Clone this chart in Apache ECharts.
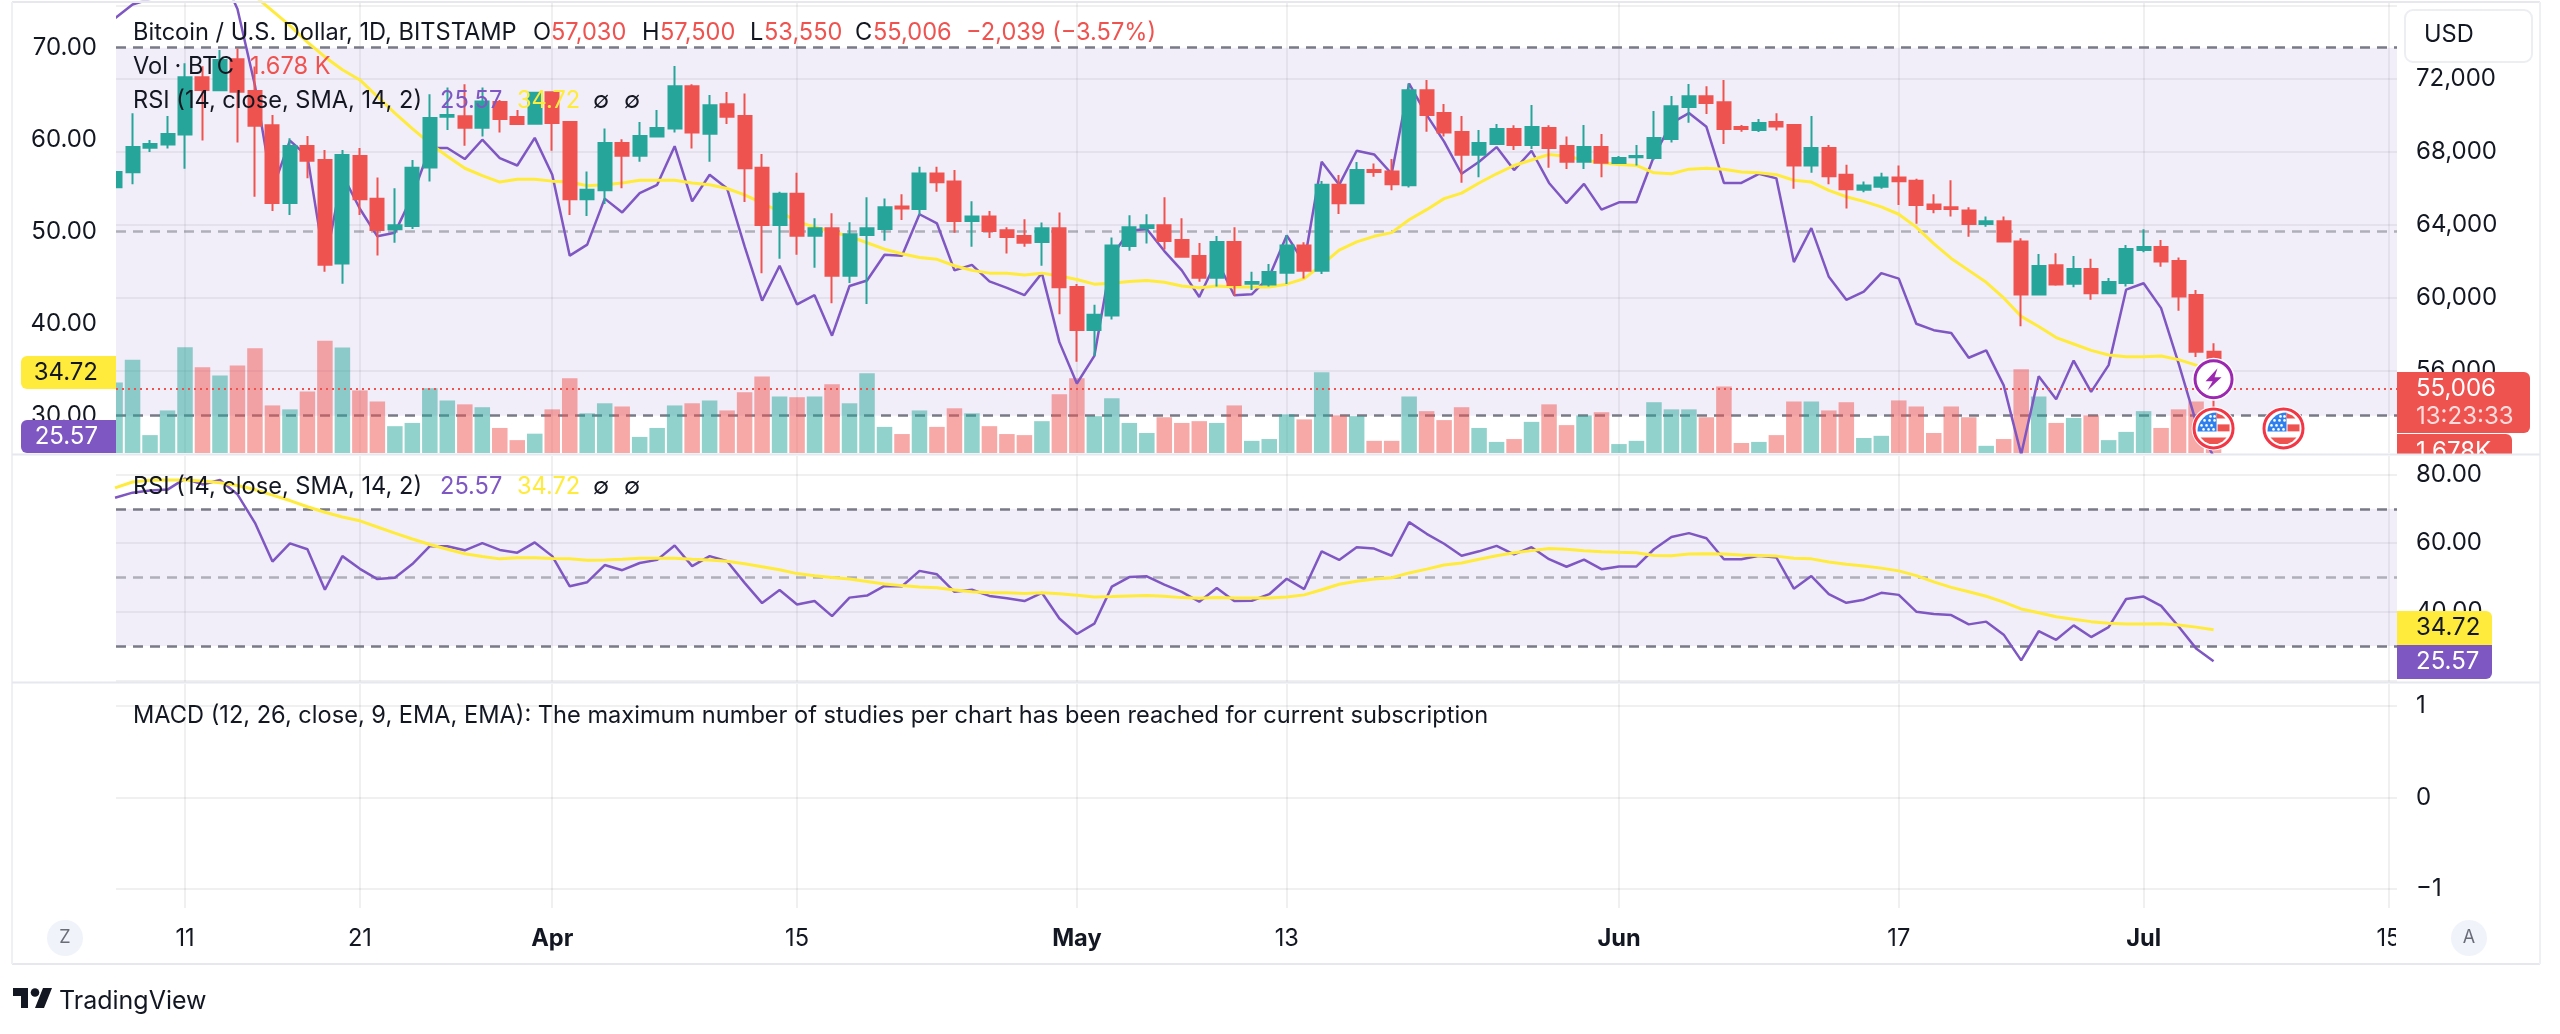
<!DOCTYPE html>
<html>
<head>
<meta charset="utf-8">
<title>BTCUSD</title>
<style>
html,body{margin:0;padding:0;background:#fff;}
#chart{width:2560px;height:1034px;}
</style>
<script src="https://cdn.jsdelivr.net/npm/echarts@6/dist/echarts.min.js"></script>
</head>
<body>
<div id="chart"></div>
<script>
// daily candles, index 0 = 7 Mar
var opens=[66060,66880,68230,68400,68950,72090,71380,73080,71340,69460,
65200,68320,67560,61870,67780,65430,63750,63930,67150,69930,
69950,69330,70740,69920,69550,71270,69640,65400,65890,68490,
67790,68840,69280,71600,69000,70610,69970,67130,63990,65710,
63400,63810,61210,63440,63770,65010,64870,66810,66370,64210,
64460,63700,63390,63060,63810,60590,58230,59030,62840,63830,
63970,63170,62290,61100,63060,60770,60730,61370,62870,61480,
66200,65180,67010,66920,66170,71380,70130,69090,67850,68430,
69260,68380,69310,68320,67460,68270,67390,67700,67670,68710,
70460,71050,70720,69370,69200,69640,69480,67250,68210,66750,
65930,66090,66590,66420,65120,64960,64790,64040,64190,63090,
60170,61780,60770,61580,60240,60810,62620,62780,62010,60150,
57030];
var closes=[66900,68270,68430,68980,72090,71400,73040,71300,69440,65200,
68320,67520,61810,67830,65400,63720,63970,67130,69860,70030,
69330,70760,69800,69530,71250,69590,65400,65930,68490,67790,
68870,69310,71600,69060,70560,69930,67100,63990,65710,63400,
63810,61210,63480,63810,64960,64900,66810,66330,64210,64460,
63660,63330,63020,63810,60570,58230,59070,62870,63860,63970,
63110,62250,61100,63060,60700,60860,61410,62870,61480,66200,
65180,67010,66900,66220,71380,70030,69060,67850,68490,69260,
68380,69370,68210,67460,68270,67410,67670,67780,68760,70500,
71050,70680,69260,69260,69590,69400,67250,68210,66660,65950,
66150,66590,66390,65090,64870,64870,64040,64190,63080,60170,
61740,60720,61580,60240,60860,62670,62780,61980,60060,57030,
55006];
var lows=[65640,66220,68000,68180,67080,68620,71360,68510,65540,64760,
64540,66550,61430,60770,64540,62310,63020,63770,66370,69200,
68340,68840,69060,69530,69550,68070,64540,64480,65140,66000,
67460,68840,69060,68180,67460,69530,65250,61340,62140,62360,
61650,59690,60810,59650,63130,64260,64540,65820,63570,62800,
63280,62420,62800,61760,59090,56490,56800,58810,62580,62970,
62650,62250,60880,60610,60110,60420,60610,60750,61060,61300,
64590,65140,66640,65890,66040,69110,68840,66310,66610,68430,
68100,68160,67130,67060,67060,66610,67390,67250,67560,68510,
69600,70080,68430,69110,69090,69170,65980,66860,66220,64900,
65780,65980,65090,64060,64630,64450,63350,63900,63080,58430,
60170,60660,60570,59890,60240,60610,62490,61700,59290,56750,
53550];
var highs=[68010,70120,68650,69970,72860,72700,73590,73680,72680,70030,
68750,68870,68100,68100,68210,66590,66000,67560,71160,71540,
71710,71540,70850,70300,71300,71300,69700,66920,69290,68690,
69640,70300,72710,71710,71120,71290,71210,67890,65820,66860,
64360,64630,64140,65510,65450,65670,67190,67190,67010,65290,
64760,63860,64300,64120,64680,60750,59620,63310,64520,64580,
65510,64360,63000,63390,63860,61430,61850,63440,63040,66400,
66730,67450,67360,67610,71760,71950,70630,69970,69200,69530,
69460,70570,69460,68840,69480,68980,67780,68380,70240,71070,
71730,71600,71950,69480,69800,70120,69530,69970,68380,67300,
66370,66860,67250,66530,65670,66440,64960,64450,64450,63260,
62400,62440,62290,62140,61080,62890,63750,63170,62200,60420,
57500];
// volume in thousand BTC
var volumes=[19.7,26.1,5.0,11.9,29.6,24.0,21.7,24.5,29.3,13.3,
12.2,17.2,31.4,29.5,17.5,14.4,7.5,8.4,18.1,14.7,
13.6,12.8,7.0,3.6,5.4,12.2,20.9,11.1,13.9,13.0,
4.5,7.0,13.3,13.9,14.7,11.9,17.0,21.4,15.8,15.6,
15.8,19.2,13.9,22.3,7.3,5.3,11.9,7.3,12.5,11.1,
7.5,5.3,5.0,8.9,16.4,20.9,10.3,15.3,8.4,5.6,
10.0,8.4,8.9,8.4,13.3,3.4,3.9,10.8,9.4,22.6,
10.5,10.3,3.4,3.4,15.8,11.7,9.2,12.8,7.0,3.1,
3.9,8.7,13.6,7.8,10.5,11.4,2.5,3.4,14.2,12.2,
12.2,10.0,18.6,2.8,3.1,5.0,14.4,14.4,11.9,14.2,
4.2,4.8,14.7,13.0,5.6,13.0,10.0,2.0,3.9,23.4,
15.8,8.4,9.8,10.5,3.6,5.9,11.7,7.0,12.2,14.4,
1.678];
var rsiValues=[73.2,74.7,75.3,75.6,78.8,77.1,78.4,74.2,65.9,54.6,
59.9,58.2,46.4,56.2,52.5,49.5,49.9,53.9,59.1,59.1,
57.9,60.0,58.0,57.2,60.2,56.2,47.4,48.6,53.6,52.1,
54.2,55.1,59.3,53.3,56.2,54.7,48.4,42.5,46.3,42.1,
43.1,38.7,44.1,44.7,47.5,47.4,51.9,50.9,45.8,46.4,
44.6,43.9,43.1,45.5,38.0,33.5,36.5,47.3,50.1,50.3,
47.9,45.8,42.9,46.9,43.1,43.2,45.1,49.6,46.6,57.6,
55.1,58.8,58.4,56.3,66.1,62.7,59.8,56.3,57.6,59.2,
56.7,58.8,55.3,53.1,55.2,52.4,53.2,53.2,58.2,61.8,
62.9,61.4,55.3,55.3,56.3,55.8,46.7,50.4,45.1,42.6,
43.5,45.5,44.9,40.0,39.3,39.0,36.3,37.1,33.3,25.8,
34.3,31.8,36.0,32.6,35.5,43.7,44.4,41.7,35.7,29.3,
25.57];
var smaValues=[76.1,77.8,78.3,78.4,78.4,78.1,77.6,76.8,75.6,74.0,
72.4,70.6,69.0,67.6,66.5,64.7,62.9,61.2,59.6,58.2,
56.9,56.1,55.4,55.7,55.7,55.5,55.4,55.0,55.1,55.3,
55.6,55.6,55.6,55.3,55.1,54.7,54.0,53.1,52.2,51.1,
50.5,50.0,49.5,48.8,48.1,47.6,47.2,47.0,46.3,45.8,
45.5,45.5,45.3,45.5,45.2,44.8,44.3,44.4,44.6,44.7,
44.5,44.1,43.9,44.1,44.0,44.0,44.0,44.3,44.9,46.4,
48.0,48.9,49.5,49.9,51.3,52.4,53.6,54.2,55.3,56.3,
57.2,57.8,58.4,58.2,57.8,57.5,57.3,57.2,56.4,56.3,
56.8,56.9,56.8,56.5,56.4,56.2,55.6,55.4,54.5,53.8,
53.3,52.7,51.9,50.5,48.7,47.1,45.8,44.5,42.8,40.8,
39.7,38.5,37.8,37.1,36.6,36.4,36.4,36.5,36.1,35.5,
34.72];
// time axis ticks
var tickDays=[4,14,25,39,55,67,86,102,116,130];
var tickLabels=['11','21','Apr','15','May','13','Jun','17','Jul','15'];
var priceTicks=[56000,60000,64000,68000,72000];
var priceGrid=[56000,60000,64000,68000,72000,76000];
var rsiMainTicks=[30,40,50,60,70];
var rsiLowTicks=[40,60,80];
var macdTicks=[-1,0,1];
// event icons on the chart [day, price level]
var boltEvents=[[120,55530]];
var flagEvents=[[120,52830],[124,52830]];

var UP='#26a69a',DOWN='#ef5350',PURPLE='#7e57c2',YELLOW='#ffeb3b';
var TXT='#131722',FONT='Inter, "Noto Sans", sans-serif',GRIDC='rgba(42,46,57,0.07)';
var FS=23.6,TICKFS=24;

window.onload=function(){
    var myChart=echarts.init(document.getElementById('chart'),null,{renderer:'canvas'});

    var candles=[],volData=[],rsiData=[],smaData=[];
    for(var i=0;i<opens.length;i++){
        candles.push([i,opens[i],closes[i],lows[i],highs[i]]);
        volData.push({value:[i,volumes[i]],itemStyle:{color:closes[i]>=opens[i]?'rgba(38,166,154,0.5)':'rgba(239,83,80,0.5)'}});
        rsiData.push([i,rsiValues[i]]);
        smaData.push([i,smaValues[i]]);
    }

    function xAxisOf(grid,showLabel){
        return {
            type:'value',gridIndex:grid,min:0.054,max:130.49,
            axisLine:{show:false},
            axisTick:{show:false,customValues:tickDays},
            splitLine:{show:true,lineStyle:{color:GRIDC,width:2}},
            axisLabel:{
                show:showLabel,customValues:tickDays,margin:19,
                fontFamily:FONT,fontSize:FS,color:TXT,hideOverlap:false,
                formatter:function(v){
                    var s=tickLabels[tickDays.indexOf(v)];
                    return isNaN(parseInt(s))?'{b|'+s+'}':s;
                },
                rich:{b:{fontFamily:FONT,fontSize:FS,fontWeight:'bold',color:TXT}}
            }
        };
    }
    function yAxisOf(grid,pos,min,max,ticks,labels,fmt,lines,z){
        return {
            type:'value',gridIndex:grid,position:pos,min:min,max:max,scale:true,z:z||0,
            axisLine:{show:false},
            axisTick:{show:false,customValues:ticks},
            splitLine:{show:lines,lineStyle:{color:GRIDC,width:2}},
            axisLabel:{show:labels!=null,customValues:labels||ticks,margin:19,fontFamily:FONT,fontSize:TICKFS,color:TXT,formatter:fmt,hideOverlap:false}
        };
    }
    function fmt2(v){return v.toFixed(2);}
    function fmtPrice(v){return Math.round(v).toLocaleString('en-US');}
    function fmtMacd(v){return v<0?'\u2212'+(-v):''+v;}

    // RSI band and levels go under everything else in a pane
    function rsiBand(){
        return {
            markArea:{silent:true,z:1,itemStyle:{color:'rgba(126,87,194,0.1)'},data:[[{yAxis:70},{yAxis:30}]],label:{show:false}},
            markLine:{silent:true,z:2,symbol:'none',animation:false,label:{show:false},data:[
                {yAxis:70,lineStyle:{color:'#787b86',type:[10,7],width:2.5}},
                {yAxis:50,lineStyle:{color:'rgba(120,123,134,0.55)',type:[10,7],width:2.5}},
                {yAxis:30,lineStyle:{color:'#787b86',type:[10,7],width:2.5}}
            ]}
        };
    }
    function lineSeries(name,x,y,data,color,width,extra){
        var s={name:name,type:'line',xAxisIndex:x,yAxisIndex:y,data:data,z:4,symbol:'none',silent:true,animation:false,lineStyle:{color:color,width:width}};
        if(extra){s.markArea=extra.markArea;s.markLine=extra.markLine;}
        return s;
    }

    function renderBolt(params,api){
        var p=api.coord([api.value(0),api.value(1)]);
        return {type:'group',x:p[0],y:p[1],children:[
            {type:'circle',shape:{cx:0,cy:0,r:21.5},style:{fill:'#fff'}},
            {type:'circle',shape:{cx:0,cy:0,r:18.5},style:{fill:'#fff',stroke:'#9c27b0',lineWidth:3}},
            {type:'polygon',shape:{points:[[4,-11],[-8,2],[-1,2],[-6,11],[8,-2],[1,-2]]},style:{fill:'#9c27b0'}}
        ]};
    }
    function renderFlag(params,api){
        var p=api.coord([api.value(0),api.value(1)]);
        var kids=[
            {type:'circle',shape:{cx:0,cy:0,r:22},style:{fill:'#fff'}},
            {type:'circle',shape:{cx:0,cy:0,r:19.5},style:{fill:'#fff',stroke:'#f23645',lineWidth:3}},
            {type:'sector',shape:{cx:3,cy:3,r0:0,r:19,startAngle:Math.PI,endAngle:Math.PI*1.5},style:{fill:'#2f80ed'}},
            {type:'polygon',shape:{points:[[3,-15.5],[9,-13],[12,-10],[3,-10]]},style:{fill:'#ef5350'}},
            {type:'rect',shape:{x:4,y:-4,width:12,height:7},style:{fill:'#ef5350'}},
            {type:'polygon',shape:{points:[[-13,9],[13,9],[9,13],[4,15.5],[-4,15.5],[-9,13]]},style:{fill:'#ef5350'}}
        ];
        var stars=[[-9,-8],[-4,-8],[1,-8],[-12,-3],[-7,-3],[-2,-3],[-10,1],[-5,1],[0,1],[-3,-12],[1,-12]];
        for(var k=0;k<stars.length;k++){
            kids.push({type:'circle',shape:{cx:stars[k][0],cy:stars[k][1],r:1.3},style:{fill:'#fff'}});
        }
        return {type:'group',x:p[0],y:p[1],children:kids};
    }

    // labels, boxes and frame that TradingView paints outside the plot
    var els=[];
    function txt(x,y,s,color,opt){
        opt=opt||{};
        els.push({type:'text',z:opt.z||60,silent:true,style:{x:x,y:y,text:s,fill:color||TXT,
            font:(opt.weight?opt.weight+' ':'')+(opt.size||FS)+'px '+FONT,
            verticalAlign:'middle',align:opt.align||'left'}});
    }
    function box(x,y,w,h,fill,r,z){
        els.push({type:'rect',z:z||55,silent:true,shape:{x:x,y:y,width:w,height:h,r:r||0},style:{fill:fill}});
    }
    function hline(y,x1,x2,w){
        els.push({type:'line',z:58,silent:true,shape:{x1:x1,y1:y,x2:x2,y2:y},style:{stroke:'#e6e8ee',lineWidth:w||2}});
    }
    function vline(x,y1,y2){
        els.push({type:'line',z:58,silent:true,shape:{x1:x,y1:y1,x2:x,y2:y2},style:{stroke:'#eef0f3',lineWidth:2}});
    }

    // first candle and volume bar get cut at the pane edge
    box(13,3,103,450,'#fff',0,8);

    // frame
    hline(2,12,2540); hline(964,12,2540);
    vline(12,2,964); vline(2540,2,964);
    box(2397,455,143,7,'#fff',0,54);
    hline(454.5,12,2540); hline(682.5,12,2540);
    box(2396,925,18,30,'#fff',0,56);

    // legend row 1
    txt(133,33,'Bitcoin / U.S. Dollar, 1D, BITSTAMP');
    txt(533,33,'O'); txt(551,33,'57,030',DOWN);
    txt(642,33,'H'); txt(660,33,'57,500',DOWN);
    txt(750,33,'L'); txt(764,33,'53,550',DOWN);
    txt(855,33,'C'); txt(873,33,'55,006',DOWN);
    txt(966,33,'\u22122,039 (\u22123.57%)',DOWN);
    // row 2, 3
    txt(133,67,'Vol \u00b7 BTC');
    txt(250,67,'1.678 K',DOWN);
    txt(133,101,'RSI (14, close, SMA, 14, 2)');
    txt(440,101,'25.57',PURPLE); txt(517,101,'34.72',YELLOW);
    txt(593,101,'\u2205'); txt(624,101,'\u2205');
    // RSI pane legend
    txt(133,487,'RSI (14, close, SMA, 14, 2)');
    txt(440,487,'25.57',PURPLE); txt(517,487,'34.72',YELLOW);
    txt(593,487,'\u2205'); txt(624,487,'\u2205');
    // MACD pane notice
    txt(133,715.5,'MACD (12, 26, close, 9, EMA, EMA): The maximum number of studies per chart has been reached for current subscription');

    // USD box
    els.push({type:'rect',z:55,silent:true,shape:{x:2405,y:10,width:127,height:52,r:8},style:{fill:'#fff',stroke:'#eceef2',lineWidth:2}});
    txt(2424,35,'USD',TXT);

    // left scale badges
    box(21,356,95,33,YELLOW,[6,0,0,6]);
    txt(98,372.5,'34.72',TXT,{align:'right',size:TICKFS});
    box(21,420,95,33,PURPLE,[6,0,0,6]);
    txt(98,437,'25.57','#fff',{align:'right',size:TICKFS});

    // right scale badges, volume under price
    box(2397,434,115,20,DOWN,[0,6,0,0],53);
    txt(2416,452,'1,678K','#fff',{z:53,size:TICKFS});
    box(2397,372,133,61,DOWN,[0,6,6,0]);
    txt(2416,389,'55,006','#fff',{size:TICKFS});
    txt(2416,417,'13:23:33','rgba(255,255,255,0.8)',{size:TICKFS});
    box(2397,611,95,34,YELLOW,[0,6,0,0]);
    txt(2416,628,'34.72',TXT,{size:TICKFS});
    box(2397,645,95,34,PURPLE,[0,0,6,0]);
    txt(2416,662,'25.57','#fff',{size:TICKFS});

    // Z and A buttons
    els.push({type:'circle',z:55,silent:true,shape:{cx:65,cy:938,r:18},style:{fill:'#f0f3fa'}});
    txt(65,938,'Z','#6a6d78',{align:'center',size:18});
    els.push({type:'circle',z:55,silent:true,shape:{cx:2469,cy:938,r:18},style:{fill:'#f0f3fa'}});
    txt(2469,938,'A','#6a6d78',{align:'center',size:18});

    // TradingView mark
    els.push({type:'polygon',z:60,silent:true,shape:{points:[[13,988],[28,988],[28,1008],[21,1008],[21,996],[13,996]]},style:{fill:TXT}});
    els.push({type:'polygon',z:60,silent:true,shape:{points:[[35,1008],[43,988],[52,988],[44,1008]]},style:{fill:TXT}});
    els.push({type:'circle',z:60,silent:true,shape:{cx:35,cy:992.5,r:4.3},style:{fill:TXT}});
    txt(59,1001,'TradingView',TXT,{size:25});

    var option={
        animation:false,
        backgroundColor:'#fff',
        grid:[
            {left:116,width:2281,top:2,height:451},
            {left:116,width:2281,top:456,height:226},
            {left:116,width:2281,top:684,height:224}
        ],
        xAxis:[xAxisOf(0,false),xAxisOf(1,false),xAxisOf(2,true)],
        yAxis:[
            yAxisOf(0,'right',51479,76225,priceGrid,priceTicks,fmtPrice,true),
            yAxisOf(0,'left',25.95,74.97,rsiMainTicks,rsiMainTicks,fmt2,false,9),
            yAxisOf(0,'left',0,126.1,[0],null,null,false),
            yAxisOf(1,'right',19.5,85.39,[20,40,60,80],rsiLowTicks,fmt2,true),
            yAxisOf(2,'right',-1.208,1.24,macdTicks,macdTicks,fmtMacd,true)
        ],
        series:[
            lineSeries('RSI',0,1,rsiData,PURPLE,2.5,rsiBand()),
            {name:'Vol',type:'bar',xAxisIndex:0,yAxisIndex:2,data:volData,barWidth:15.5,z:3,silent:true,animation:false},
            lineSeries('RSI MA',0,1,smaData,YELLOW,3),
            {
                name:'BTCUSD',type:'candlestick',xAxisIndex:0,yAxisIndex:0,data:candles,
                encode:{x:0,y:[1,2,3,4]},barWidth:13.5,z:5,silent:true,animation:false,
                itemStyle:{color:UP,color0:DOWN,borderColor:UP,borderColor0:DOWN,borderWidth:2},
                markLine:{silent:true,z:6,symbol:'none',animation:false,label:{show:false},
                    lineStyle:{color:DOWN,type:[2,4],width:2},data:[{yAxis:closes[closes.length-1]}]}
            },
            {name:'bolt',type:'custom',xAxisIndex:0,yAxisIndex:0,data:boltEvents,renderItem:renderBolt,z:7,silent:true,animation:false,encode:{x:0,y:1}},
            {name:'flag',type:'custom',xAxisIndex:0,yAxisIndex:0,data:flagEvents,renderItem:renderFlag,z:7,silent:true,animation:false,encode:{x:0,y:1}},
            lineSeries('RSI',1,3,rsiData,PURPLE,2.5,rsiBand()),
            lineSeries('RSI MA',1,3,smaData,YELLOW,3)
        ],
        graphic:{elements:els}
    };
    myChart.setOption(option);
};
</script>
</body>
</html>
